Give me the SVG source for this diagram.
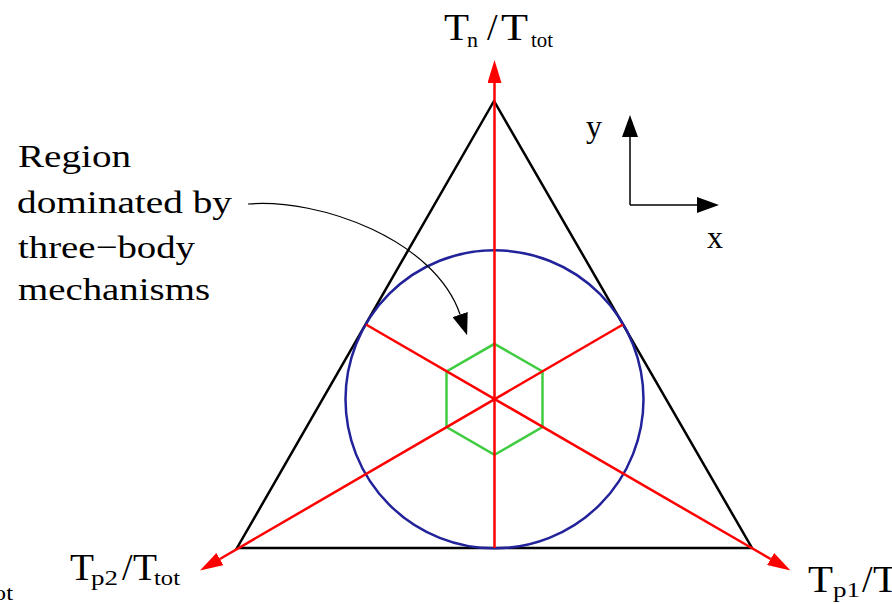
<svg xmlns="http://www.w3.org/2000/svg" width="892" height="604" viewBox="0 0 892 604">
  <style>
    .txt { font-family: "Liberation Serif", "Times New Roman", serif; fill: #000; }
    .body { font-size: 32px; }
    .big { font-size: 38px; }
    .sub { font-size: 22px; }
    .red { stroke: #ff0000; stroke-width: 2.5; fill: none; }
    .axis { stroke: #000; stroke-width: 1.5; fill: none; }
  </style>
  <defs>
    <marker id="redHead" markerUnits="userSpaceOnUse" viewBox="0 0 23 14" refX="0" refY="7" markerWidth="23" markerHeight="14" orient="auto">
      <path d="M0,0 L23,7 L0,14 z" fill="#ff0000"/>
    </marker>
    <marker id="blackHead" markerUnits="userSpaceOnUse" viewBox="0 0 22 16" refX="0" refY="8" markerWidth="22" markerHeight="16" orient="auto">
      <path d="M0,0 L22,8 L0,16 z" fill="#000"/>
    </marker>
  </defs>
  <rect width="892" height="604" fill="#fff"/>

  <g id="triangle">
    <polygon points="494,101 237,548 752,548" fill="none" stroke="#000" stroke-width="2.5" stroke-linejoin="miter"/>
  </g>
  <g id="circle">
    <circle cx="494.5" cy="399.3" r="149" fill="none" stroke="#22229a" stroke-width="2.5"/>
  </g>
  <g id="hexagon">
    <polygon points="494.5,343.8 542.5,371.5 542.5,427 494.5,454.8 446.5,427 446.5,371.5" fill="none" stroke="#40cc40" stroke-width="2.5"/>
  </g>

  <g id="connectors">
    <path class="red" d="M494.5,548 L494.5,83" marker-end="url(#redHead)"/>
    <path class="red" d="M623,324.5 L219.9,559" marker-end="url(#redHead)"/>
    <path class="red" d="M366,324.5 L770.6,559" marker-end="url(#redHead)"/>
    <path class="axis" d="M630,205 L630,137" marker-end="url(#blackHead)"/>
    <path class="axis" d="M630,205 L697,205" marker-end="url(#blackHead)"/>
    <path d="M248,204 C320,198 435,240 460.1,314.5" fill="none" stroke="#000" stroke-width="1.2" marker-end="url(#blackHead)"/>
  </g>

  <g id="label-region" class="txt body">
    <text x="18" y="167" textLength="113" lengthAdjust="spacingAndGlyphs">Region</text>
    <text x="17" y="213" textLength="215" lengthAdjust="spacingAndGlyphs">dominated by</text>
    <text x="18" y="258" textLength="177" lengthAdjust="spacingAndGlyphs">three−body</text>
    <text x="18" y="300" textLength="192" lengthAdjust="spacingAndGlyphs">mechanisms</text>
  </g>

  <g id="label-axes" class="txt body">
    <text x="586" y="137">y</text>
    <text x="707" y="248">x</text>
  </g>

  <g id="label-top" class="txt">
    <text class="big" x="444" y="40" textLength="25" lengthAdjust="spacingAndGlyphs">T</text>
    <text class="sub" x="467" y="47">n</text>
    <text class="big" x="487" y="40">/</text>
    <text class="big" x="501" y="40" textLength="27" lengthAdjust="spacingAndGlyphs">T</text>
    <text class="sub" x="531" y="47" textLength="22" lengthAdjust="spacingAndGlyphs">tot</text>
  </g>

  <g id="label-left" class="txt">
    <text class="big" x="70" y="580" textLength="24" lengthAdjust="spacingAndGlyphs">T</text>
    <text class="sub" x="91" y="585" textLength="27" lengthAdjust="spacingAndGlyphs">p2</text>
    <text class="big" x="122" y="580">/</text>
    <text class="big" x="133" y="580" textLength="24" lengthAdjust="spacingAndGlyphs">T</text>
    <text class="sub" x="154" y="585" textLength="26" lengthAdjust="spacingAndGlyphs">tot</text>
    <text class="sub" x="-13" y="600" textLength="26" lengthAdjust="spacingAndGlyphs">tot</text>
  </g>

  <g id="label-right" class="txt">
    <text class="big" x="808" y="592" textLength="25" lengthAdjust="spacingAndGlyphs">T</text>
    <text class="sub" x="833" y="597" textLength="27" lengthAdjust="spacingAndGlyphs">p1</text>
    <text class="big" x="862" y="592">/</text>
    <text class="big" x="873" y="592" textLength="25" lengthAdjust="spacingAndGlyphs">T</text>
  </g>
</svg>
